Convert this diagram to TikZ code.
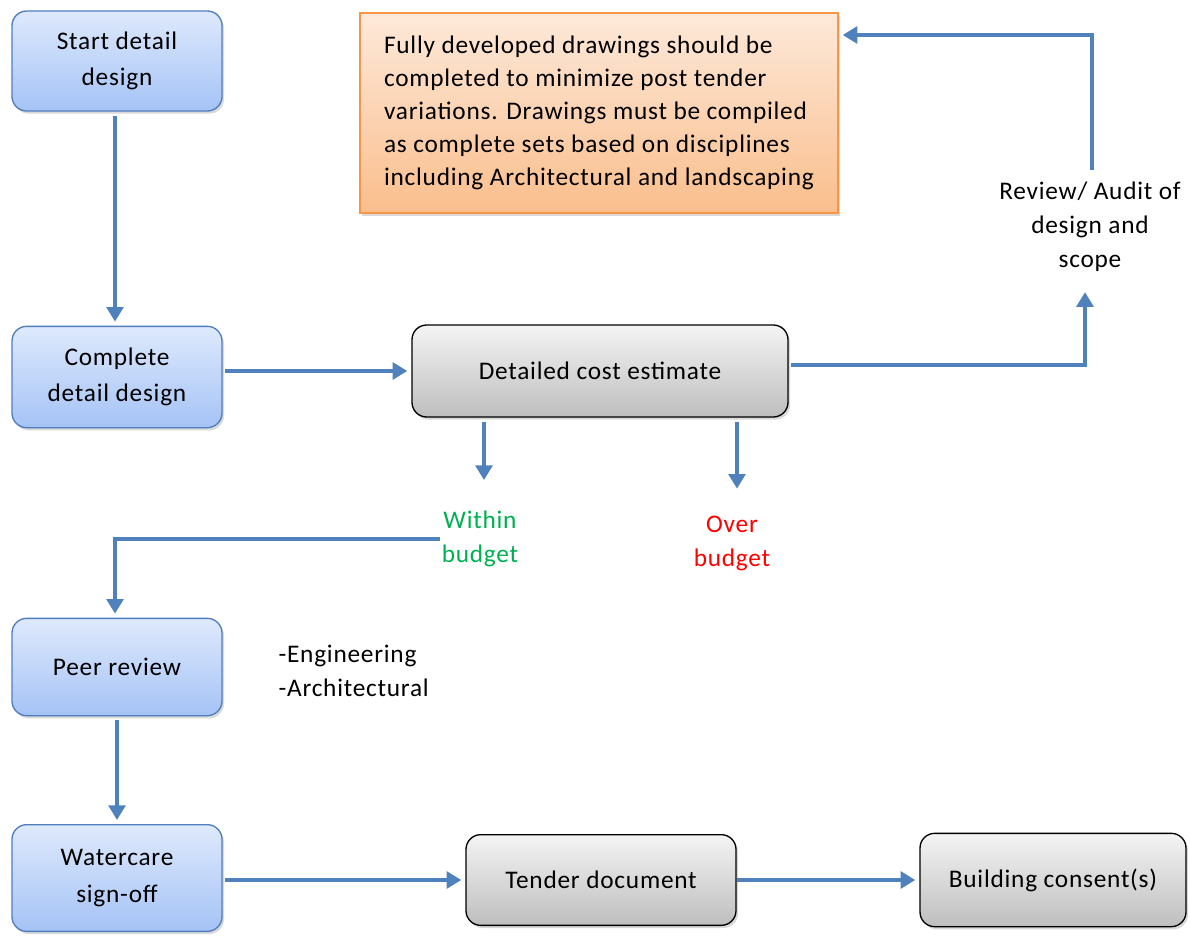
\documentclass[tikz,border=0pt]{standalone}
\usepackage{fontspec}
\setmainfont{Carlito}[LetterSpace=3]
\usetikzlibrary{arrows.meta,shadows}

\definecolor{flowblue}{RGB}{79,129,189}
\definecolor{boxblue}{RGB}{80,126,188}
\definecolor{okgreen}{RGB}{0,176,80}
\definecolor{notered}{RGB}{255,0,0}
\definecolor{noteedge}{RGB}{247,150,70}

\tikzset{
  bluebox/.style={draw=boxblue, line width=1pt, rounded corners=11pt, top color={rgb,255:red,222;green,233;blue,252}, bottom color={rgb,255:red,165;green,195;blue,246}, minimum width=157.5pt, align=center, font=\fontsize{19}{27.5}\selectfont, drop shadow={opacity=0.3,shadow xshift=1.5pt,shadow yshift=-2pt}},
  graybox/.style={draw=black, line width=1pt, rounded corners=11pt, top color={rgb,255:red,244;green,244;blue,244}, bottom color={rgb,255:red,190;green,190;blue,190}, align=center, font=\fontsize{19}{26}\selectfont, drop shadow={opacity=0.3,shadow xshift=1.5pt,shadow yshift=-2pt}},
  notebox/.style={draw=noteedge, line width=1pt, top color={rgb,255:red,253;green,233;blue,218}, bottom color={rgb,255:red,250;green,190;blue,140}, minimum width=358.5pt, minimum height=150pt, align=left, font=\fontsize{19}{24.75}\selectfont, drop shadow={opacity=0.3,shadow xshift=1.5pt,shadow yshift=-2pt}},
  plain/.style={align=center, font=\fontsize{19}{25.5}\selectfont, inner sep=1pt},
  flow/.style={draw=flowblue, line width=3.5pt, -{Triangle[width=12.5pt,length=11pt]}},
}

\begin{document}
\begin{tikzpicture}[x=0.75pt,y=0.75pt,yscale=-1,xscale=1]
	\useasboundingbox (0,0) rectangle (1190,936);
	% boxes
	\node (start) at (117,61) [bluebox, minimum height=75pt] {Start detail\\design};
	\node (complete) at (117,377) [bluebox, minimum height=76pt] {Complete\\detail design};
	\node (peer) at (117,667) [bluebox, minimum height=73pt] {Peer review};
	\node (water) at (117,878) [bluebox, minimum height=80pt] {Watercare\\sign-off};
	\node (dce) at (600,371) [graybox, minimum width=282pt, minimum height=69pt] {Detailed cost estimate};
	\node (tender) at (601,880) [graybox, minimum width=202.5pt, minimum height=68pt] {Tender document};
	\node (consent) at (1053,880) [graybox, minimum width=199.5pt, minimum height=70pt] {Building consent(s)};
	\node (note) at (599,113) [notebox] {Fully developed drawings should be\\completed to minimize post tender\\variations. Drawings must be compiled\\as complete sets based on disciplines\\including Architectural and landscaping};
	% labels
	\node (review) at (1090,227) [plain] {Review/ Audit of\\design and\\scope};
	\node (within) at (480,539) [plain, text=okgreen] {Within\\budget};
	\node (over) at (732,543) [plain, text=notered] {Over\\budget};
	\node (disc) at (277,671) [plain, anchor=west, align=left] {-Engineering\\-Architectural};
	\coordinate (turn) at (1092,35);
	% connectors
	\draw [flow, shorten <=3pt, shorten >=3pt] (start.south -| 115,0) -- (complete.north -| 115,0);
	\draw [flow, shorten <=2pt, shorten >=3pt] (complete.east |- dce.west) -- (dce.west);
	\draw [flow, shorten <=2pt, shorten >=14pt] ([yshift=-4.5pt]dce.east) -| (review.south -| 1085,0);
	\draw [flow, shorten <=8pt, shorten >=3pt] (review.north -| turn) -- (turn) -- (note.east |- turn);
	\draw [flow, shorten <=3pt, shorten >=22pt] (dce.south -| 484,0) -- (within.north -| 484,0);
	\draw [flow, shorten <=3pt, shorten >=19pt] (dce.south -| 737,0) -- (over.north -| 737,0);
	\draw [flow, shorten >=3pt] (within.west) -| (peer.north -| 115,0);
	\draw [flow, shorten <=3pt, shorten >=3pt] (peer.south) -- (water.north);
	\draw [flow, shorten <=2pt, shorten >=3pt] (water.east |- tender.west) -- (tender.west);
	\draw [flow, shorten >=3pt] (tender.east) -- (consent.west);
\end{tikzpicture}
\end{document}
